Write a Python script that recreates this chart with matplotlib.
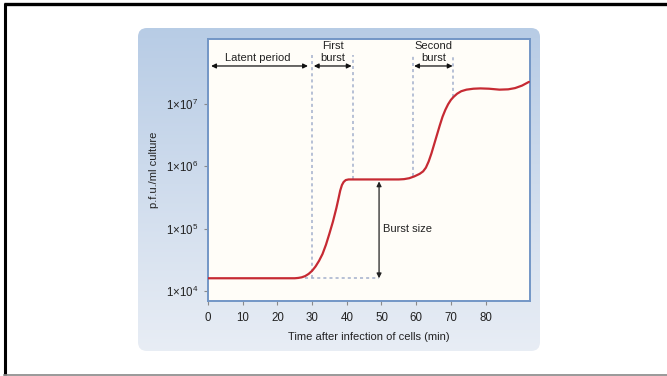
import numpy as np
import matplotlib
matplotlib.use("Agg")
import matplotlib.pyplot as plt
from matplotlib.patches import FancyBboxPatch
import matplotlib.transforms as mtransforms

plt.rcParams['font.family'] = ['Liberation Sans', 'DejaVu Sans']
plt.rcParams['mathtext.fontset'] = 'custom'
plt.rcParams['mathtext.rm'] = 'Liberation Sans'

# growth curve (time in min, log10 pfu/ml)
times = [0, 10, 20, 25, 26, 27, 28, 29, 30, 31, 32, 33, 34, 35, 36, 37, 37.6, 38.1, 38.6,
         39.1, 39.7, 40.5, 45, 50, 55, 56.5, 58, 59.5, 61, 62, 62.8, 63.6, 64.4, 65.2,
         66, 66.8, 67.6, 68.4, 69.2, 70, 70.8, 71.8, 73, 74.5, 76.5, 78.5, 81, 84, 86.5,
         88.5, 90.5, 92.5]
log_pfu = [4.2, 4.2, 4.2, 4.2, 4.205, 4.215, 4.235, 4.27, 4.32, 4.39, 4.48, 4.59, 4.74,
           4.92, 5.11, 5.33, 5.48, 5.61, 5.70, 5.75, 5.78, 5.79, 5.79, 5.79, 5.79, 5.795,
           5.81, 5.84, 5.88, 5.92, 5.98, 6.08, 6.21, 6.36, 6.51, 6.66, 6.80, 6.91, 7.00,
           7.07, 7.12, 7.17, 7.21, 7.235, 7.25, 7.255, 7.25, 7.235, 7.24, 7.26, 7.30, 7.36]
pfu = [10 ** v for v in log_pfu]

yticks = [1e4, 1e5, 1e6, 1e7]
ytick_labels = [r'$\mathregular{1{\times}10^4}$', r'$\mathregular{1{\times}10^5}$',
                r'$\mathregular{1{\times}10^6}$', r'$\mathregular{1{\times}10^7}$']
xticks = [0, 10, 20, 30, 40, 50, 60, 70, 80]

# phase boundaries (min)
latent_end = 29.9
first_end = 41.9
second_start = 59.0
second_end = 70.6
start_level = 10 ** 4.2
plateau_level = 10 ** 5.79
burst_x = 49.3

fig = plt.figure(figsize=(6.67, 3.76), dpi=100)
fig.patch.set_facecolor('white')

# background panel with gradient, and page border
bg = fig.add_axes([0, 0, 1, 1])
bg.set_xlim(0, 667)
bg.set_ylim(376, 0)
bg.axis('off')
grad = np.linspace(0, 1, 256).reshape(-1, 1)
top = np.array([0.72, 0.80, 0.90])
bot = np.array([0.91, 0.93, 0.96])
img = top + (bot - top) * grad[..., None]
im = bg.imshow(img, extent=(138, 540, 351, 28), aspect='auto', zorder=1)
panel = FancyBboxPatch((138, 28), 402, 323, boxstyle='round,pad=0,rounding_size=9',
                       transform=bg.transData, facecolor='none', edgecolor='none')
bg.add_patch(panel)
im.set_clip_path(panel)
bg.plot([5, 5], [3, 375], color='black', lw=2.2, solid_capstyle='butt')
bg.plot([4, 667], [3.5, 3.5], color='black', lw=2.4, solid_capstyle='butt')
bg.plot([4, 667], [374.5, 374.5], color='#888888', lw=1.2)

ax = fig.add_axes([208 / 667, 75 / 376, 322 / 667, 262 / 376])
ax.set_facecolor('#fffdf8')
ax.set_yscale('log')
ax.set_xlim(0, 92.8)
ax.set_ylim(10 ** 3.834, 10 ** 8.05)

for s in ax.spines.values():
    s.set_color('#7396c6')
    s.set_linewidth(1.4)

ax.set_yticks(yticks)
ax.set_yticklabels(ytick_labels)
ax.yaxis.set_minor_locator(matplotlib.ticker.NullLocator())
ax.set_xticks(xticks)
ax.tick_params(axis='both', direction='out', length=3, width=0.8, color='#8a8a8a',
               labelsize=8.3, labelcolor='#222222')
ax.tick_params(axis='y', pad=4)
ax.tick_params(axis='x', pad=5)

ax.set_ylabel('p.f.u./ml culture', fontsize=8, color='#222222', labelpad=5)
ax.set_xlabel('Time after infection of cells (min)', fontsize=8, color='#222222', labelpad=6)

# dashed guides
trans = mtransforms.blended_transform_factory(ax.transData, ax.transAxes)
dash = dict(color='#a3b0cc', lw=1.1, linestyle=(0, (2, 2)), zorder=2)
guide_top = 0.939


def frac(v):
    lo, hi = np.log10(ax.get_ylim())
    return (np.log10(v) - lo) / (hi - lo)


ax.plot([latent_end, latent_end], [frac(start_level), guide_top], transform=trans, **dash)
ax.plot([first_end, first_end], [frac(plateau_level), guide_top], transform=trans, **dash)
ax.plot([second_start, second_start], [frac(10 ** 5.85), guide_top], transform=trans, **dash)
ax.plot([second_end, second_end], [frac(10 ** 7.12), guide_top], transform=trans, **dash)
ax.plot([28, burst_x], [start_level, start_level], **dash)

ax.plot(times, pfu, color='#c62a33', lw=1.6, zorder=4, solid_capstyle='round',
        solid_joinstyle='round')

# top phase arrows
arr = dict(arrowstyle='<|-|>', color='#111111', lw=0.9, mutation_scale=7, shrinkA=0, shrinkB=0)
ay = 0.897
ax.annotate('', xy=(0.9, ay), xytext=(28.8, ay), xycoords=trans, textcoords=trans, arrowprops=arr)
ax.annotate('', xy=(30.5, ay), xytext=(41.4, ay), xycoords=trans, textcoords=trans, arrowprops=arr)
ax.annotate('', xy=(59.4, ay), xytext=(70.5, ay), xycoords=trans, textcoords=trans, arrowprops=arr)

tk = dict(fontsize=8, color='#222222', ha='center', va='center', transform=trans)
ax.text(14.4, 0.926, 'Latent period', **tk)
ax.text(35.9, 0.973, 'First', **tk)
ax.text(35.9, 0.926, 'burst', **tk)
ax.text(65.0, 0.973, 'Second', **tk)
ax.text(65.0, 0.926, 'burst', **tk)

# burst size arrow
arr2 = dict(arrowstyle='<|-|>', color='#222222', lw=0.9, mutation_scale=7, shrinkA=0, shrinkB=0)
ax.annotate('', xy=(burst_x, plateau_level * 0.93), xytext=(burst_x, start_level),
            arrowprops=arr2)
ax.text(burst_x + 1.2, 1e5, 'Burst size', fontsize=8, color='#222222', ha='left', va='center')

fig.savefig('out.png', dpi=100)
